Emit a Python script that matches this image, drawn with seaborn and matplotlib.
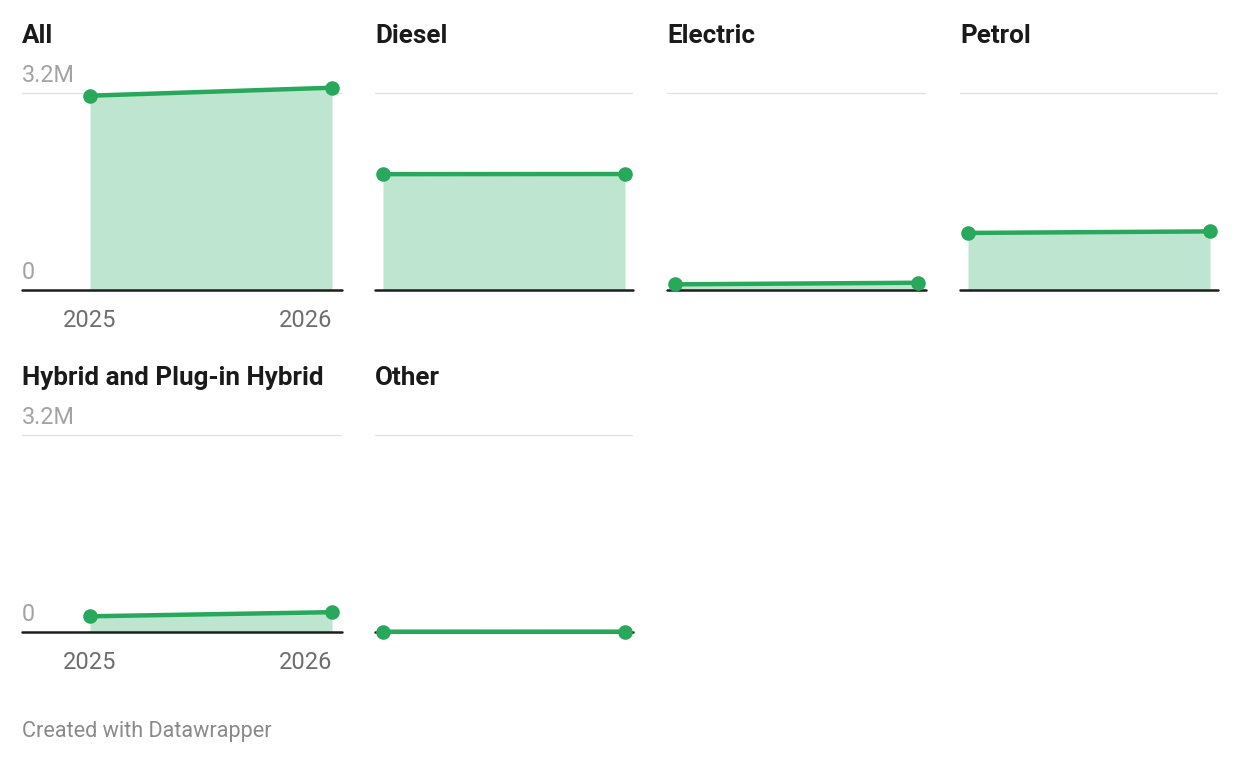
import matplotlib
matplotlib.use("Agg")
import matplotlib.pyplot as plt
import seaborn as sns
import pandas as pd

categories = ["All", "Diesel", "Electric", "Petrol", "Hybrid and Plug-in Hybrid", "Other"]
years = [2025, 2026]
values_2025 = [3.156e6, 1.882e6, 0.092e6, 0.927e6, 0.255e6, 0.005e6]
values_2026 = [3.286e6, 1.884e6, 0.118e6, 0.952e6, 0.322e6, 0.006e6]
y_tick_values = [0, 3.2e6]
y_tick_labels = ["0", "3.2M"]
x_tick_labels = ["2025", "2026"]
footer = "Created with Datawrapper"

sns.set_theme(style="white")
plt.rcParams["font.family"] = ["Roboto", "DejaVu Sans"]

W, H = 1240, 764
fig = plt.figure(figsize=(W / 100, H / 100), dpi=100)

LINE = "#27a85a"
FILL = "#bee5cf"

def px_axes(left, top, right, bottom):
    return fig.add_axes([left / W, 1 - bottom / H, (right - left) / W, (bottom - top) / H])

# panel geometry (pixels)
cols = [(22, 342), (375, 633), (667, 926), (960, 1218)]
rows = [(93, 290), (435, 632)]   # (gridline y, baseline y)
title_y = [36, 378]
pos = [(0, 0), (0, 1), (0, 2), (0, 3), (1, 0), (1, 1)]

for i, cat in enumerate(categories):
    r, c = pos[i]
    left, right = cols[c]
    gy, by = rows[r]
    top = gy - 40
    ax = px_axes(left, top, right, by)
    d_left = 68 if c == 0 else 8
    d_right = 10 if c == 0 else 8
    span = (right - left) - d_left - d_right
    ppy = span  # pixels per year
    ax.set_xlim(2025 - d_left / ppy, 2026 + d_right / ppy)
    scale = 3.2e6 / (by - gy)
    ax.set_ylim(0, (by - top) * scale)

    df = pd.DataFrame({"year": years, "value": [values_2025[i], values_2026[i]]})
    ax.fill_between(df["year"], 0, df["value"], color=FILL, lw=0, zorder=1)
    ax.axhline(3.2e6, color="#e2e2e2", lw=1.0, zorder=0)
    ax.axhline(0, color="#1d1d1d", lw=1.8, zorder=3, clip_on=False)
    sns.lineplot(data=df, x="year", y="value", ax=ax, color=LINE, lw=3.2,
                 marker="o", markersize=10.5, markeredgewidth=0,
                 zorder=4, clip_on=False)

    for s in ax.spines.values():
        s.set_visible(False)
    ax.set_yticks([])
    ax.set_xlabel("")
    ax.set_ylabel("")
    if c == 0:
        ax.set_xticks(years)
        ax.set_xticklabels(x_tick_labels, fontsize=17, color="#6e6e6e")
        labs = ax.get_xticklabels()
        labs[0].set_ha("center")
        labs[1].set_ha("right")
        ax.tick_params(axis="x", length=0, pad=14)
        for v, t in zip(y_tick_values, y_tick_labels):
            ax.annotate(t, xy=(0, v), xycoords=("axes fraction", "data"),
                        xytext=(0, 4), textcoords="offset points",
                        ha="left", va="bottom", fontsize=16.8, color="#a3a3a3")
    else:
        ax.set_xticks([])

    fig.text(left / W, 1 - title_y[r] / H, cat, fontsize=18.7, fontweight="bold",
             color="#1a1a1a", ha="left", va="center")

fig.text(22 / W, 1 - 731 / H, footer, fontsize=15.6, color="#8a8a8a",
         ha="left", va="center")

fig.savefig("out.png", dpi=100)
